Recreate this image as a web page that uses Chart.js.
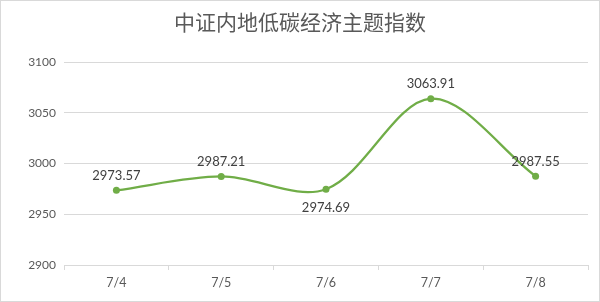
<!DOCTYPE html>
<html>
<head>
<meta charset="utf-8">
<script src="https://cdn.jsdelivr.net/npm/chart.js@4"></script>
<style>
  html, body { margin: 0; padding: 0; background: #fff; }
  #wrap { width: 600px; height: 302px; position: relative; }
</style>
</head>
<body>
<div id="wrap"><canvas id="chart" width="600" height="302"></canvas></div>
<script>
/* 中证内地低碳经济主题指数 - line chart */

var titleText = '中证内地低碳经济主题指数';
var dates = ['7/4', '7/5', '7/6', '7/7', '7/8'];
var closeValues = [2973.57, 2987.21, 2974.69, 3063.91, 2987.55];
var yTicks = [2900, 2950, 3000, 3050, 3100];
// which labels sit under the point instead of above it
var labelBelow = [false, false, true, false, false];

var green = '#70ad47';
var gridColor = '#d9d9d9';
var textColor = '#595959';

// Frame round the whole picture, plus the title
var framePlugin = {
    id: 'frame',
    beforeDraw: function(chart) {
        var ctx = chart.ctx;
        ctx.save();
        ctx.fillStyle = '#fff';
        ctx.fillRect(0, 0, chart.width, chart.height);
        ctx.strokeStyle = '#d9d9d9';
        ctx.lineWidth = 1;
        ctx.strokeRect(0.5, 0.5, chart.width - 1, chart.height - 1);

        ctx.font = '21px "Noto Sans CJK SC", sans-serif';
        ctx.fillStyle = textColor;
        ctx.textAlign = 'center';
        ctx.textBaseline = 'middle';
        ctx.fillText(titleText, chart.width / 2, 22);
        ctx.restore();
    }
};

// Value labels next to each point
var valueLabels = {
    id: 'valueLabels',
    afterDatasetsDraw: function(chart) {
        var ctx = chart.ctx;
        var meta = chart.getDatasetMeta(0);
        ctx.save();
        ctx.font = '13px Lato, "Open Sans", sans-serif';
        ctx.fillStyle = '#404040';
        ctx.textAlign = 'center';
        meta.data.forEach(function(pt, i) {
            var txt = closeValues[i].toFixed(2);
            if (labelBelow[i]) {
                ctx.textBaseline = 'top';
                ctx.fillText(txt, pt.x, pt.y + 12);
            } else {
                ctx.textBaseline = 'bottom';
                ctx.fillText(txt, pt.x, pt.y - 8);
            }
        });
        ctx.restore();
    }
};

new Chart(document.getElementById('chart'), {
    type: 'line',
    data: {
        labels: dates,
        datasets: [{
            label: titleText,
            data: closeValues,
            borderColor: green,
            backgroundColor: green,
            borderWidth: 2.25,
            pointRadius: 3.5,
            pointBackgroundColor: green,
            pointBorderWidth: 0,
            tension: 0.33,
            fill: false
        }]
    },
    options: {
        responsive: false,
        animation: false,
        layout: { padding: { top: 62, right: 12, bottom: 7, left: 0 } },
        plugins: {
            legend: { display: false },
            tooltip: { enabled: false },
            title: { display: false }
        },
        scales: {
            x: {
                offset: true,
                grid: {
                    offset: true,
                    drawOnChartArea: false,
                    drawTicks: true,
                    tickLength: 5,
                    color: gridColor
                },
                border: { color: gridColor },
                ticks: {
                    color: textColor,
                    font: { family: 'Lato, "Open Sans", sans-serif', size: 12.5 },
                    padding: 5
                }
            },
            y: {
                min: 2900,
                max: 3100,
                afterBuildTicks: function(axis) {
                    axis.ticks = yTicks.map(function(v) { return { value: v }; });
                },
                afterFit: function(axis) { axis.width = 64; },
                grid: { color: gridColor, drawTicks: false },
                border: { display: false },
                ticks: {
                    color: textColor,
                    font: { family: 'Lato, "Open Sans", sans-serif', size: 12 },
                    padding: 8,
                    callback: function(v) { return String(v); }
                }
            }
        }
    },
    plugins: [framePlugin, valueLabels]
});
</script>
</body>
</html>
